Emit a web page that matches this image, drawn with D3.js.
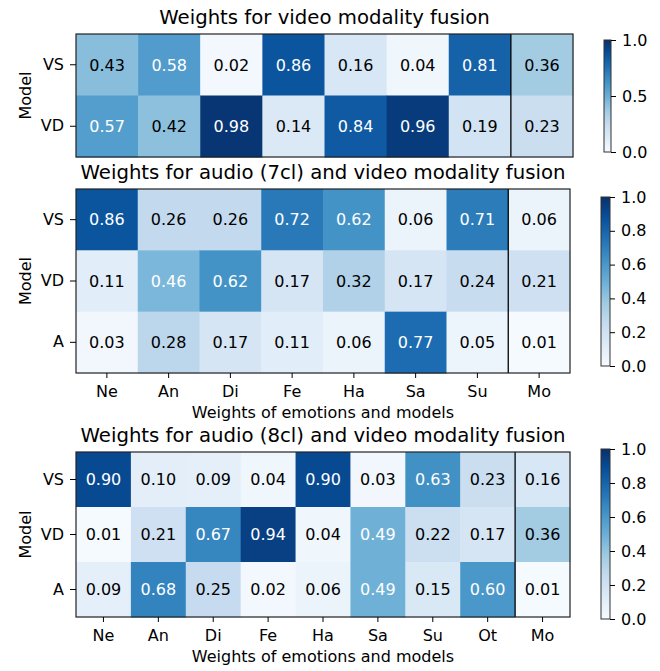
<!DOCTYPE html>
<html>
<head>
<meta charset="utf-8">
<script src="https://cdn.jsdelivr.net/npm/d3@7"></script>
<style>
  body { margin: 0; background: #fff; }
  svg text { font-family: "DejaVu Sans", sans-serif; fill: #000; }
</style>
</head>
<body>
<svg id="chart" width="660" height="671"></svg>
<script>
'use strict';

// data
var rowsTwo = ["VS", "VD"];
var rowsThree = ["VS", "VD", "A"];
var colsSeven = ["Ne", "An", "Di", "Fe", "Ha", "Sa", "Su", "Mo"];
var colsEight = ["Ne", "An", "Di", "Fe", "Ha", "Sa", "Su", "Ot", "Mo"];

var videoWeights = [
	[0.43, 0.58, 0.02, 0.86, 0.16, 0.04, 0.81, 0.36],
	[0.57, 0.42, 0.98, 0.14, 0.84, 0.96, 0.19, 0.23]
];
var audio7Weights = [
	[0.86, 0.26, 0.26, 0.72, 0.62, 0.06, 0.71, 0.06],
	[0.11, 0.46, 0.62, 0.17, 0.32, 0.17, 0.24, 0.21],
	[0.03, 0.28, 0.17, 0.11, 0.06, 0.77, 0.05, 0.01]
];
var audio8Weights = [
	[0.90, 0.10, 0.09, 0.04, 0.90, 0.03, 0.63, 0.23, 0.16],
	[0.01, 0.21, 0.67, 0.94, 0.04, 0.49, 0.22, 0.17, 0.36],
	[0.09, 0.68, 0.25, 0.02, 0.06, 0.49, 0.15, 0.60, 0.01]
];

var barTicksCoarse = [0, 0.5, 1.0];
var barTicksFine = [0, 0.2, 0.4, 0.6, 0.8, 1.0];

// matplotlib "Blues"
var bluesStops = ["#f7fbff", "#deebf7", "#c6dbef", "#9ecae1", "#6baed6", "#4292c6", "#2171b5", "#08519c", "#08306b"];
var color = d3.scaleLinear()
	.domain(d3.range(bluesStops.length).map(function (i) { return i / (bluesStops.length - 1); }))
	.range(bluesStops)
	.interpolate(d3.interpolateRgb)
	.clamp(true);

var FS = "16px";

var svg = d3.select("#chart");

var defs = svg.append("defs");
var grad = defs.append("linearGradient")
	.attr("id", "bluesGrad")
	.attr("x1", 0).attr("y1", 1).attr("x2", 0).attr("y2", 0);
bluesStops.forEach(function (c, i) {
	grad.append("stop")
		.attr("offset", (i / (bluesStops.length - 1) * 100) + "%")
		.attr("stop-color", c);
});

function drawHeatmap(opt) {
	let g = svg.append("g");
	let x = d3.scaleBand().domain(opt.cols).range([opt.left, opt.right]);
	let y = d3.scaleBand().domain(opt.rows).range([opt.top, opt.bottom]);
	let maxVal = d3.max(opt.values, function (r) { return d3.max(r); });

	let cells = [];
	opt.values.forEach(function (row, i) {
		row.forEach(function (v, j) {
			cells.push({ row: opt.rows[i], col: opt.cols[j], value: v });
		});
	});

	g.selectAll(".cell")
		.data(cells)
		.enter().append("rect")
		.attr("class", "cell")
		.attr("x", function (d) { return x(d.col); })
		.attr("y", function (d) { return y(d.row); })
		.attr("width", x.bandwidth() + 0.5)
		.attr("height", y.bandwidth() + 0.5)
		.attr("fill", function (d) { return color(d.value); });

	g.selectAll(".val")
		.data(cells)
		.enter().append("text")
		.attr("class", "val")
		.attr("x", function (d) { return x(d.col) + x.bandwidth() / 2; })
		.attr("y", function (d) { return y(d.row) + y.bandwidth() / 2; })
		.attr("dy", "0.36em")
		.attr("text-anchor", "middle")
		.style("font-size", FS)
		.style("fill", function (d) { return d.value > maxVal / 2 ? "#fff" : "#000"; })
		.text(function (d) { return d.value.toFixed(2); });

	// line that separates the Mo column
	let sepX = x("Mo");
	g.append("line")
		.attr("x1", sepX).attr("x2", sepX)
		.attr("y1", opt.top).attr("y2", opt.bottom)
		.attr("stroke", "#000").attr("stroke-width", 1.3);

	g.append("rect")
		.attr("x", opt.left).attr("y", opt.top)
		.attr("width", opt.right - opt.left).attr("height", opt.bottom - opt.top)
		.attr("fill", "none").attr("stroke", "#222").attr("stroke-width", 1.2);

	let yAxis = g.append("g")
		.attr("transform", "translate(" + opt.left + ",0)")
		.call(d3.axisLeft(y).tickSize(6).tickPadding(6));
	yAxis.select(".domain").remove();
	yAxis.selectAll("text").style("font-size", FS).attr("fill", "#000");
	yAxis.selectAll("line").attr("stroke", "#000").attr("stroke-width", 1);

	if (opt.showX) {
		let xAxis = g.append("g")
			.attr("transform", "translate(0," + opt.bottom + ")")
			.call(d3.axisBottom(x).tickSize(5).tickPadding(8));
		xAxis.select(".domain").remove();
		xAxis.selectAll("text").style("font-size", FS).attr("fill", "#000");
		xAxis.selectAll("line").attr("stroke", "#000").attr("stroke-width", 1);

		g.append("text")
			.attr("x", (opt.left + opt.right) / 2)
			.attr("y", opt.bottom + 45)
			.attr("text-anchor", "middle")
			.style("font-size", FS)
			.text("Weights of emotions and models");
	}

	g.append("text")
		.attr("transform", "translate(25," + ((opt.top + opt.bottom) / 2) + ") rotate(-90)")
		.attr("text-anchor", "middle")
		.attr("dy", "0.36em")
		.style("font-size", FS)
		.text("Model");

	g.append("text")
		.attr("x", (opt.left + opt.right) / 2)
		.attr("y", opt.top - 10)
		.attr("text-anchor", "middle")
		.style("font-size", "19.7px")
		.text(opt.title);

	// colour bar
	let cb = opt.bar;
	let cy = d3.scaleLinear().domain([0, 1]).range([cb.bottom, cb.top]);
	g.append("rect")
		.attr("x", cb.left).attr("y", cb.top)
		.attr("width", cb.width).attr("height", cb.bottom - cb.top)
		.attr("fill", "url(#bluesGrad)")
		.attr("stroke", "#333").attr("stroke-width", 1);
	let cAxis = g.append("g")
		.attr("transform", "translate(" + (cb.left + cb.width) + ",0)")
		.call(d3.axisRight(cy).tickValues(cb.ticks).tickFormat(d3.format(".1f")).tickSize(5).tickPadding(6));
	cAxis.select(".domain").remove();
	cAxis.selectAll("text").style("font-size", FS).attr("fill", "#000");
	cAxis.selectAll("line").attr("stroke", "#000").attr("stroke-width", 1);
}

drawHeatmap({
	title: "Weights for video modality fusion",
	rows: rowsTwo, cols: colsSeven, values: videoWeights,
	left: 76, right: 573, top: 34, bottom: 157, showX: false,
	bar: { left: 604, width: 7, top: 40, bottom: 152, ticks: barTicksCoarse }
});

drawHeatmap({
	title: "Weights for audio (7cl) and video modality fusion",
	rows: rowsThree, cols: colsSeven, values: audio7Weights,
	left: 76, right: 570, top: 189, bottom: 373, showX: true,
	bar: { left: 601, width: 9, top: 197, bottom: 366, ticks: barTicksFine }
});

drawHeatmap({
	title: "Weights for audio (8cl) and video modality fusion",
	rows: rowsThree, cols: colsEight, values: audio8Weights,
	left: 76, right: 570, top: 452, bottom: 617, showX: true,
	bar: { left: 601, width: 9, top: 449, bottom: 619, ticks: barTicksFine }
});
</script>
</body>
</html>
